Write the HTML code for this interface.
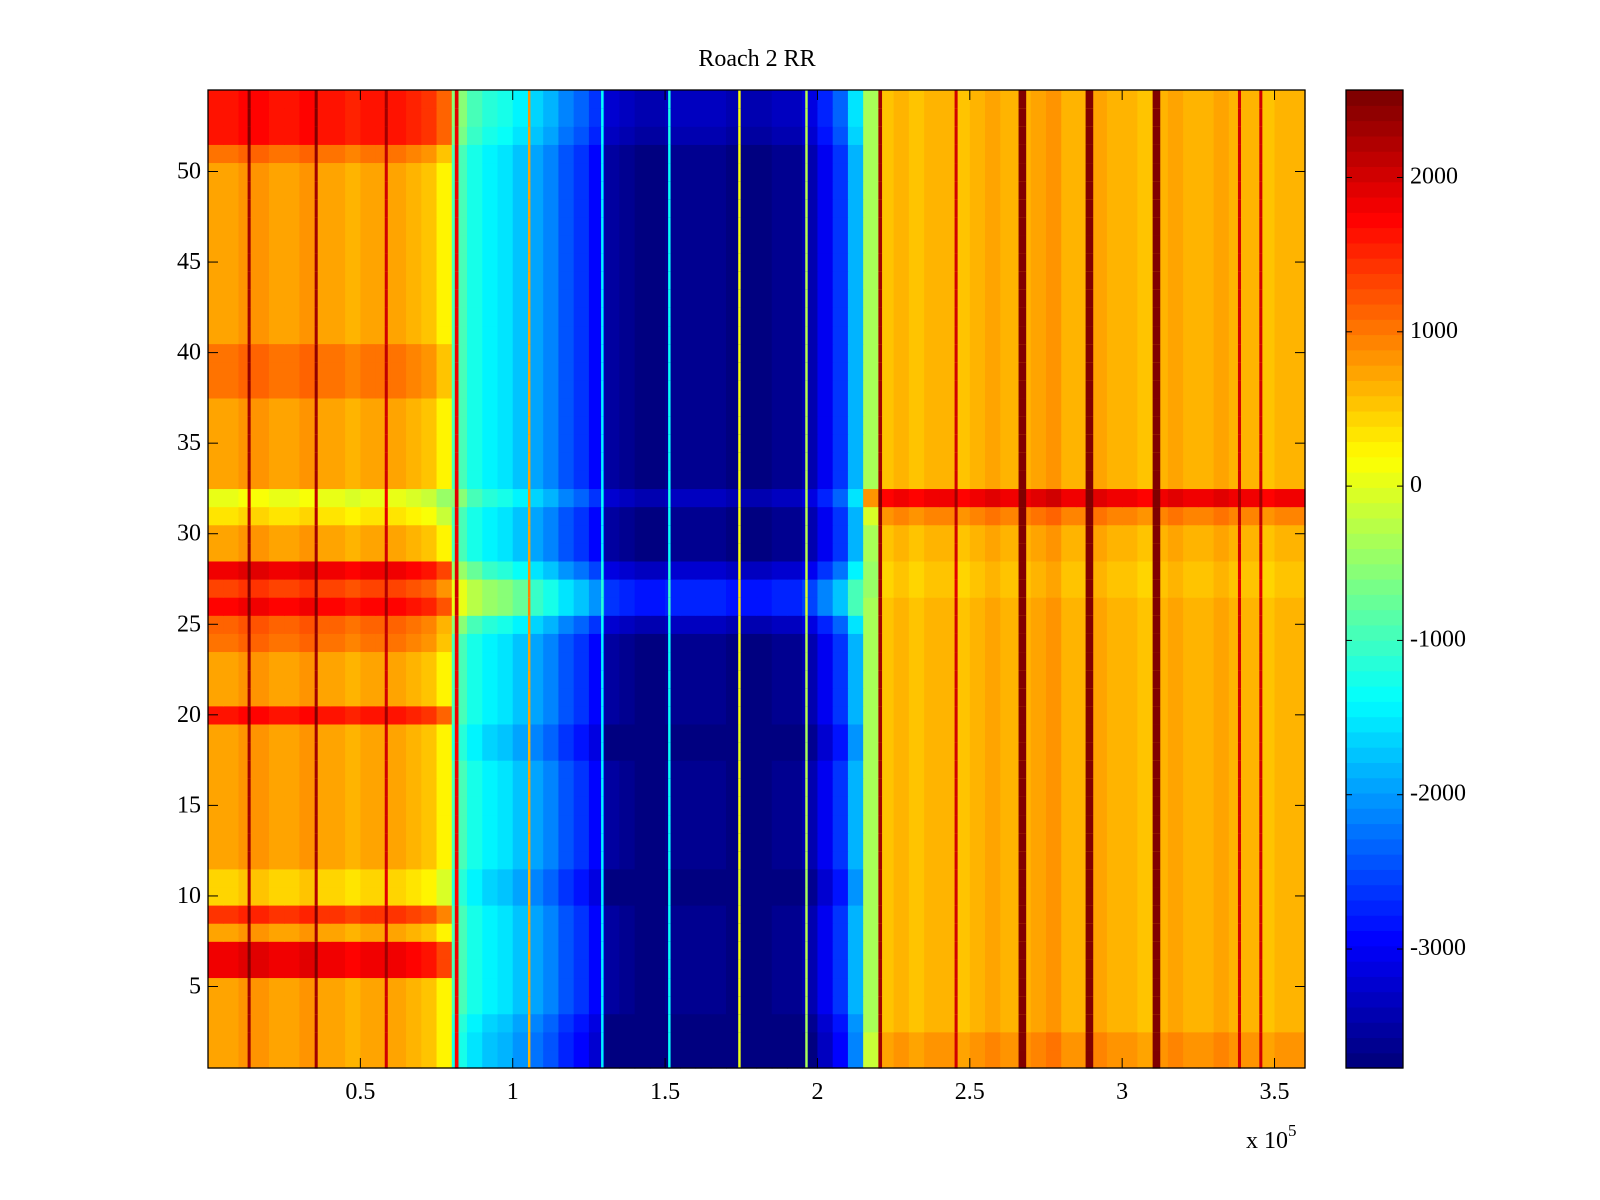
<!DOCTYPE html>
<html><head><meta charset="utf-8">
<style>
html,body{margin:0;padding:0;background:#fff;}
svg{display:block;font-family:"Liberation Serif",serif;}
</style></head>
<body>
<svg id="fig" width="1600" height="1200" xmlns="http://www.w3.org/2000/svg">
<rect width="1600" height="1200" fill="#fff"/>
<text x="757" y="66" font-size="24" text-anchor="middle">Roach 2 RR</text>
<g id="heat"></g>
<g id="cbar"></g>
<g id="axes"></g>
<text x="1246" y="1148" font-size="24">x 10<tspan font-size="17" dy="-12">5</tspan></text>
</svg>
<script>
// x bin starts in units of 1e5 (bin width 0.05)
const xBins = [];
for (let i = 0; i < 72; i++) xBins.push(+(i * 0.05).toFixed(2));
const colBase = [700,750,800,800,750,750,800,700,700,650,700,750,700,600,500,
  200,
  -900,-1200,-1400,-1500,
  -1700,-1900,-2100,-2400,-2600,-2900,
  -3500,-3600,-3700,-3700,-3650,-3650,-3600,-3650,-3700,-3700,-3700,-3650,-3600,-3400,
  -3000,-2600,-1800,-400,
  500,600,550,600,650,500,600,700,650,600,700,800,650,600,700,650,600,550,650,700,600,650,700,650,600,550,650,600];
// row offsets (rows 1..54), left region (x < 0.8e5)
const rowOffLeft = [0,0,0,0,0,1100,1100,0,700,-300,-300,0,0,0,0,0,0,0,0,900,0,0,0,300,400,1000,600,1100,0,0,-400,-700,0,0,0,0,0,300,300,300,0,0,0,0,0,0,0,0,0,0,300,900,900,900];
// row offsets middle region (0.8e5 .. 2.15e5)
const rowOffMid = [-300,-300,-200,0,0,0,0,0,0,-200,-200,0,0,0,0,0,0,-200,-200,0,0,0,0,0,300,900,900,400,0,0,0,300,0,0,0,0,0,0,0,0,0,0,0,0,0,0,0,0,0,0,0,200,300,300];
// row offsets right region
const rowOffRight = [200,200,0,0,0,0,0,0,0,0,0,0,0,0,0,0,0,0,0,0,0,0,0,0,0,0,-100,-100,0,0,300,1200,0,0,0,0,0,0,0,0,0,0,0,0,0,0,0,0,0,0,0,0,0,0];
// vertical stripes: x position (1e5), width (1e5), value
const stripeX = [0.13,0.35,0.58,0.81,1.05,1.29,1.51,1.74,1.96,2.20,2.45,2.66,2.88,3.10,3.38,3.45];
const stripeW = [0.01,0.01,0.01,0.012,0.008,0.008,0.008,0.008,0.008,0.012,0.01,0.025,0.025,0.025,0.01,0.01];
const stripeV = [2300,2300,2000,1800,700,-1400,-1300,100,-300,2300,2000,2500,2500,2500,2000,2000];
const cTicks = [-3000,-2000,-1000,0,1000,2000];
const xTicks = [0.5,1,1.5,2,2.5,3,3.5];
const yTicks = [5,10,15,20,25,30,35,40,45,50];

const L=208,R=1305,T=90,B=1068;
const xmin=0,xmax=3.6,ymin=0.5,ymax=54.5,cmin=-3771,cmax=2567;
const sx=v=>L+(v-xmin)/(xmax-xmin)*(R-L);
const sy=v=>B-(v-ymin)/(ymax-ymin)*(B-T);
function jet(v){
  let t=(v-cmin)/(cmax-cmin); t=Math.max(0,Math.min(1,t));
  t=Math.min(63,Math.floor(t*64))/63;
  const f=x=>Math.max(0,Math.min(1,x));
  const r=f(Math.min(4*t-1.5,-4*t+4.5)), g=f(Math.min(4*t-0.5,-4*t+3.5)), b=f(Math.min(4*t+0.5,-4*t+2.5));
  return `rgb(${Math.round(r*255)},${Math.round(g*255)},${Math.round(b*255)})`;
}
function rowOff(x,r){ return x<0.78 ? rowOffLeft[r] : (x<2.15 ? rowOffMid[r] : rowOffRight[r]); }
const NS="http://www.w3.org/2000/svg";
function mk(tag,attrs,parent){const e=document.createElementNS(NS,tag);for(const k in attrs)e.setAttribute(k,attrs[k]);parent.appendChild(e);return e;}
const heat=document.getElementById('heat');
for(let r=0;r<54;r++){
  const y0=sy(r+1.5),y1=sy(r+0.5);
  for(let c=0;c<xBins.length;c++){
    const x=xBins[c];
    const e=mk('rect',{x:sx(x),y:y0,width:sx(x+0.05)-sx(x)+0.6,height:y1-y0+0.6,fill:jet(colBase[c]+rowOff(x,r))},heat);
    
    
  }
  for(let s=0;s<stripeX.length;s++){
    const off = rowOff(stripeX[s],r)*0.3;
    const e=mk('rect',{x:sx(stripeX[s]),y:y0,width:sx(stripeX[s]+stripeW[s])-sx(stripeX[s]),height:y1-y0+0.6,fill:jet(stripeV[s]+off)},heat);
    
    
  }
}
const ax=document.getElementById('axes');
mk('rect',{x:L,y:T,width:R-L,height:B-T,fill:'none',stroke:'#000','stroke-width':1.3},ax);
for(const t of xTicks){
  const X=sx(t);
  mk('line',{x1:X,x2:X,y1:B,y2:B-10,stroke:'#000'},ax);
  mk('line',{x1:X,x2:X,y1:T,y2:T+10,stroke:'#000'},ax);
  const e=mk('text',{x:X,y:1099,'font-size':24,'text-anchor':'middle'},ax);
  e.textContent=t;
  
  
}
for(const t of yTicks){
  const Y=sy(t);
  mk('line',{x1:L,x2:L+10,y1:Y,y2:Y,stroke:'#000'},ax);
  mk('line',{x1:R,x2:R-10,y1:Y,y2:Y,stroke:'#000'},ax);
  const e=mk('text',{x:201,y:Y+7,'font-size':24,'text-anchor':'end'},ax);
  e.textContent=t;
  
  
}
const cb=document.getElementById('cbar');
const CL=1346,CR=1403;
const cy=v=>B-(v-cmin)/(cmax-cmin)*(B-T);
for(let i=0;i<64;i++){
  const v0=cmin+(cmax-cmin)*i/64, v1=cmin+(cmax-cmin)*(i+1)/64;
  const e=mk('rect',{x:CL,y:cy(v1),width:CR-CL,height:cy(v0)-cy(v1)+0.6,fill:jet((v0+v1)/2)},cb);
  
  
}
mk('rect',{x:CL,y:T,width:CR-CL,height:B-T,fill:'none',stroke:'#000','stroke-width':1.3},cb);
for(const t of cTicks){
  const Y=cy(t);
  mk('line',{x1:CL,x2:CL+6,y1:Y,y2:Y,stroke:'#000'},cb);
  mk('line',{x1:CR,x2:CR-6,y1:Y,y2:Y,stroke:'#000'},cb);
  const e=mk('text',{x:1410,y:Y+6,'font-size':24},cb);
  e.textContent=t;
  
  
}
</script>
</body></html>
